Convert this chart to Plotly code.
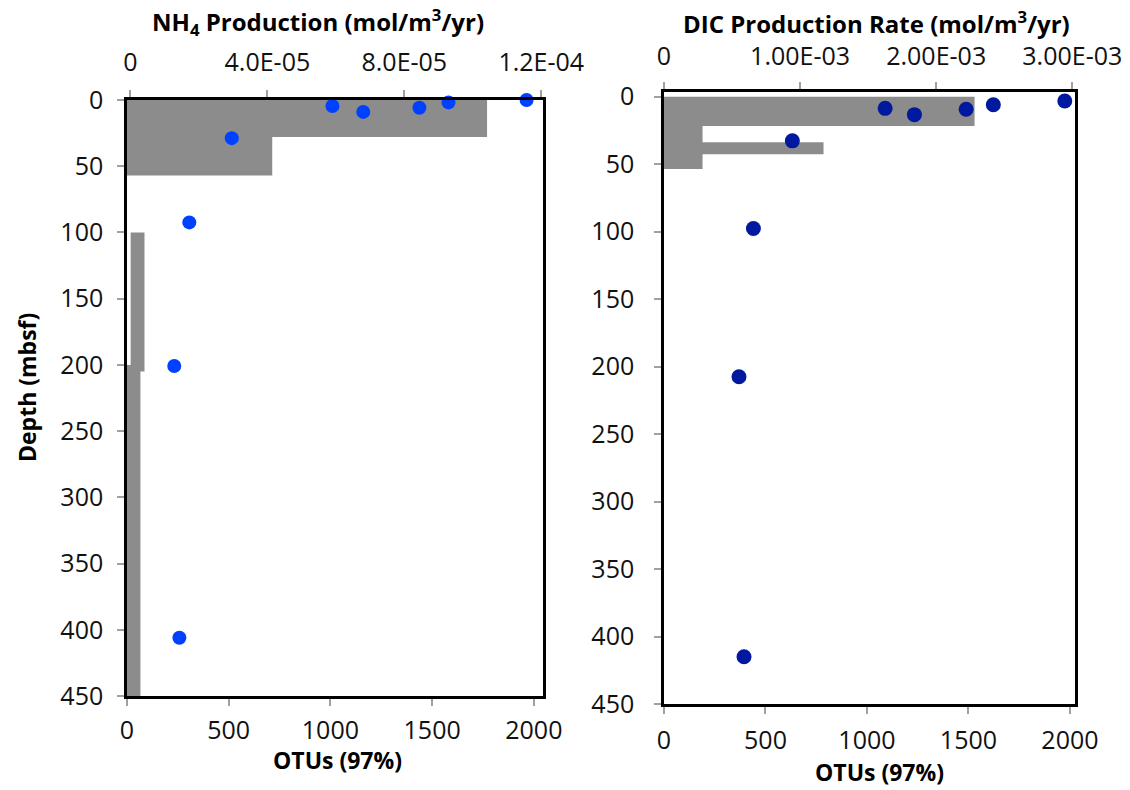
import plotly.graph_objects as go

W, H = 1130, 790

# ---------------- data ----------------
otu_ticks = [0, 500, 1000, 1500, 2000]
depth_ticks = [0, 50, 100, 150, 200, 250, 300, 350, 400, 450]
nh4_ticks = [0, 4e-5, 8e-5, 1.2e-4]
nh4_ticklabels = ["0", "4.0E-05", "8.0E-05", "1.2E-04"]
dic_ticks = [0, 1e-3, 2e-3, 3e-3]
dic_ticklabels = ["0", "1.00E-03", "2.00E-03", "3.00E-03"]

# left panel: OTU bars (depth intervals)
left_bar_top = [0, 28, 200, 100]
left_bar_bottom = [28, 57, 450, 205]
left_bar_start = [0, 0, 0, 18]
left_bar_end = [1770, 714, 66, 86]

# left panel: NH4 production
nh4_depth = [0, 1.8, 4.5, 5.8, 9, 28.8, 92.4, 200.8, 406]
nh4_rate = [1.157e-4, 9.29e-5, 5.9e-5, 8.44e-5, 6.8e-5, 2.96e-5, 1.72e-5, 1.28e-5, 1.43e-5]

# right panel: OTU bars
right_bar_top = [0, 21.7, 33.7]
right_bar_bottom = [21.7, 53.6, 42.6]
right_bar_start = [0, 0, 0]
right_bar_end = [1530, 190, 786]

# right panel: DIC production
dic_depth = [3.2, 5.9, 8.6, 9.3, 13.3, 32.7, 97.7, 207.5, 415]
dic_rate = [2.945e-3, 2.42e-3, 1.625e-3, 2.22e-3, 1.84e-3, 0.943e-3, 0.657e-3, 0.551e-3, 0.588e-3]

# ---------------- figure ----------------
FONT = "Open Sans"
BAR_COLOR = "#8c8c8c"
TXT = "#111111"
TICKC = "#a0a0a0"

fig = go.Figure()


def add_bars(tops, bottoms, starts, ends, xa, ya):
    fig.add_trace(go.Bar(
        orientation="h",
        y=[(t + b) / 2 for t, b in zip(tops, bottoms)],
        width=[b - t for t, b in zip(tops, bottoms)],
        base=starts,
        x=[e - s for s, e in zip(starts, ends)],
        marker=dict(color=BAR_COLOR, line=dict(width=0)),
        xaxis=xa, yaxis=ya, showlegend=False, hoverinfo="skip",
    ))


add_bars(left_bar_top, left_bar_bottom, left_bar_start, left_bar_end, "x", "y")
fig.add_trace(go.Scatter(
    x=nh4_rate, y=nh4_depth, mode="markers",
    marker=dict(color="#0040ff", size=14),
    xaxis="x2", yaxis="y", showlegend=False, cliponaxis=False,
))

add_bars(right_bar_top, right_bar_bottom, right_bar_start, right_bar_end, "x3", "y2")
fig.add_trace(go.Scatter(
    x=dic_rate, y=dic_depth, mode="markers",
    marker=dict(color="#00199f", size=15),
    xaxis="x4", yaxis="y2", showlegend=False, cliponaxis=False,
))

common = dict(
    showgrid=False, zeroline=False, showline=True, linecolor="black",
    linewidth=2.5, ticks="outside", tickcolor=TICKC, ticklen=7, tickwidth=1.5,
    tickfont=dict(family=FONT, size=25, color=TXT), automargin=False,
)

L0, L1, LT, LB = 127, 543, 100, 696
R0, R1, RT, RB = 664, 1075, 92, 704

fig.update_layout(
    template="none",
    width=W, height=H, autosize=False,
    margin=dict(l=0, r=0, t=0, b=0, pad=0),
    paper_bgcolor="white", plot_bgcolor="white",
    barmode="overlay",
    xaxis=dict(domain=[L0 / W, L1 / W], range=[0, 2045], anchor="y",
               tickvals=otu_ticks, ticklabelstandoff=3, **common),
    xaxis2=dict(domain=[L0 / W, L1 / W], range=[-1.0e-6, 1.205e-4], overlaying="x",
                anchor="y", side="top", tickvals=nh4_ticks, ticktext=nh4_ticklabels,
                ticklabelstandoff=9, **common),
    yaxis=dict(domain=[1 - LB / H, 1 - LT / H], range=[450, 0], anchor="x",
               tickvals=depth_ticks, mirror=True, ticklabelstandoff=9, **common),
    xaxis3=dict(domain=[R0 / W, R1 / W], range=[0, 2025], anchor="y2",
                tickvals=otu_ticks, ticklabelstandoff=5, **common),
    xaxis4=dict(domain=[R0 / W, R1 / W], range=[0, 3.02e-3], overlaying="x3",
                anchor="y2", side="top", tickvals=dic_ticks, ticktext=dic_ticklabels,
                ticklabelstandoff=7, **common),
    yaxis2=dict(domain=[1 - RB / H, 1 - RT / H], range=[450, -3.5], anchor="x3",
                tickvals=depth_ticks, mirror=True, ticklabelstandoff=15, **common),
)


def ann(text, x, y, angle=0, size=23):
    fig.add_annotation(text=text, x=x / W, y=1 - y / H, xref="paper", yref="paper",
                       showarrow=False, textangle=angle, xanchor="center", yanchor="middle",
                       font=dict(family=FONT, size=size, color="black", weight="bold"))


ann("NH<sub>4</sub> Production (mol/m<sup>3</sup>/yr)", 318, 22, size=24)
ann("DIC Production Rate (mol/m<sup>3</sup>/yr)", 876, 22, size=24)
ann("OTUs (97%)", 337, 760)
ann("OTUs (97%)", 879, 772)
ann("Depth (mbsf)", 27, 388, angle=-90, size=23)

fig.write_html("out.html")
